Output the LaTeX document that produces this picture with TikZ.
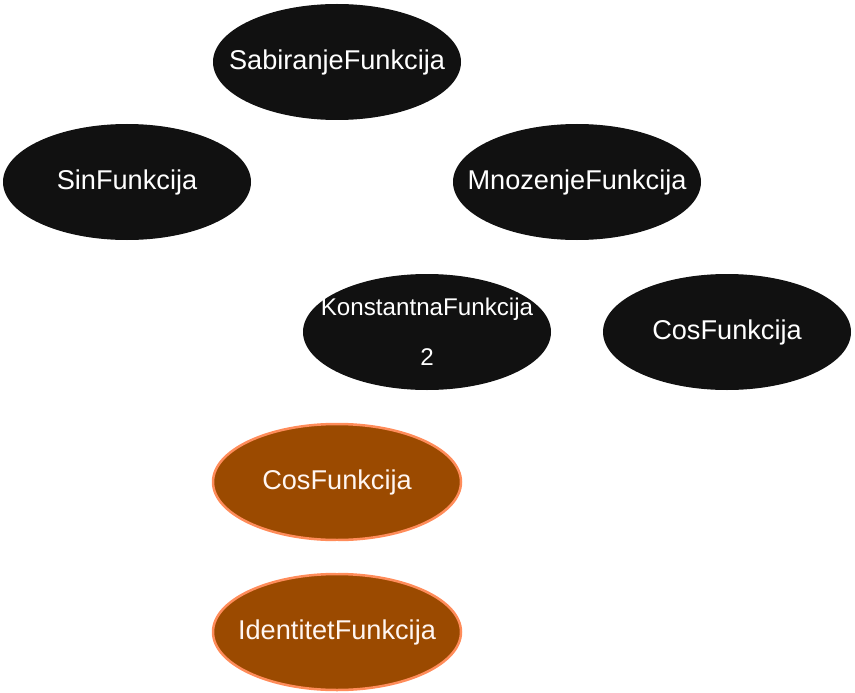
\documentclass[tikz,border=0pt]{standalone}
\usepackage{fontspec}
\setmainfont{Liberation Sans}
\usetikzlibrary{shapes.geometric}
\definecolor{nodeblack}{HTML}{111111}
\definecolor{hlfill}{HTML}{9B4A00}
\definecolor{hlline}{HTML}{FF8C5A}
\tikzset{
    fn/.style={ellipse, fill=nodeblack, text=white, minimum width=248\px, minimum height=116\px, inner xsep=-25\px, inner ysep=0pt, font=\fontsize{16.3}{20}\selectfont},
    hl/.style={fn, fill=hlfill, draw=hlline, line width=1.5pt, text=white!92!hlline}
}
\newlength{\px}\setlength{\px}{0.6pt}
\begin{document}
\begin{tikzpicture}[x=0.6pt, y=-0.6pt]
    \useasboundingbox (0,0) rectangle (855,693);
    % top rows
    \node[fn] (sab) at (337,62) {SabiranjeFunkcija};
    \node[fn] (sin) at (127,182) {SinFunkcija};
    \node[fn] (mno) at (577,182) {MnozenjeFunkcija};
    \node[fn, align=center, font=\fontsize{14.5}{30}\selectfont] (kon) at (427,332) {KonstantnaFunkcija\\2};
    \node[fn] (cos) at (727,332) {CosFunkcija};
    % highlighted pair
    \node[hl] (hcos) at (337,482) {CosFunkcija};
    \node[hl] (ide) at (337,632) {IdentitetFunkcija};
    \draw[white, line width=1pt] (hcos) -- (ide);
\end{tikzpicture}
\end{document}
